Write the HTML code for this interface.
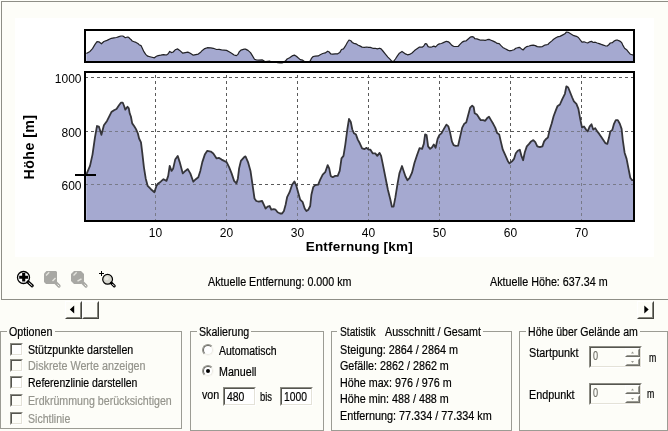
<!DOCTYPE html>
<html lang="de"><head><meta charset="utf-8"><title>Höhenprofil</title>
<style>
html,body{margin:0;padding:0;}
body{width:668px;height:431px;overflow:hidden;background:#fdfdf8;position:relative;font-family:"Liberation Sans",sans-serif;font-size:12px;color:#000;}
.abs{position:absolute;}
.t{position:absolute;white-space:nowrap;line-height:14px;height:14px;transform-origin:0 0;-webkit-text-stroke:0.2px currentColor;}
.dis{color:#94948c;}
.dk{color:#6f6f68;}
.fs{position:absolute;border:1px solid #9c9c94;box-sizing:border-box;}
.gap{position:absolute;height:3px;background:#fdfdf8;}
.cb{position:absolute;width:13px;height:13px;box-sizing:border-box;border:1px solid;border-color:#8c8c84 #fff #fff #8c8c84;background:#fff;}
.cb:after{content:"";position:absolute;left:0;top:0;right:0;bottom:0;border:1px solid;border-color:#55554f #e4e2d8 #e4e2d8 #55554f;}
.cb.d{background:#fdfdf8;}
.rb{position:absolute;width:12px;height:12px;box-sizing:border-box;border-radius:50%;background:#fff;border:1px solid #94948c;border-right-color:#f8f7f2;border-bottom-color:#f8f7f2;}
.rb:after{content:"";position:absolute;left:0;top:0;right:0;bottom:0;border-radius:50%;border:1px solid #6a6a64;border-right-color:#ecebe3;border-bottom-color:#ecebe3;}
.inp{position:absolute;box-sizing:border-box;background:#fff;border:1px solid;border-color:#8c8c84 #fff #fff #8c8c84;}
.inp:after{content:"";position:absolute;left:0;top:0;right:0;bottom:0;border:1px solid;border-color:#55554f #e4e2d8 #e4e2d8 #55554f;}
.inp.d{background:#fdfdf8;}
.btn{position:absolute;box-sizing:border-box;background:#fdfdf8;border:1px solid;border-color:#fff #45453f #45453f #fff;}
.sb{position:absolute;box-sizing:border-box;background:#fdfdf8;border:1px solid;border-color:#fff #6e6e68 #6e6e68 #fff;}
.sb:after{content:"";position:absolute;left:0;top:0;right:0;bottom:0;border:1px solid;border-color:#fdfdf8 #9a9a92 #9a9a92 #fdfdf8;}
.btn:after{content:"";position:absolute;left:0;top:0;right:0;bottom:0;border:1px solid;border-color:#fdfdf8 #85857d #85857d #fdfdf8;}
</style></head><body>
<div class="abs" style="left:1px;top:1px;width:700px;height:299px;box-sizing:border-box;border:1px solid #8e8e86;"></div>
<div class="abs" style="left:15px;top:18px;width:639px;height:238.5px;background:#fff;"></div>
<svg class="abs" style="left:0;top:0" width="668" height="300" viewBox="0 0 668 300" font-family="Liberation Sans, sans-serif">
<path d="M86.3,53.5 L90.0,51.4 L92.5,48.6 L95.0,44.4 L97.0,41.7 L98.9,41.8 L101.4,43.8 L103.9,41.5 L107.0,40.4 L111.4,38.3 L114.0,37.8 L116.5,37.5 L119.0,36.6 L120.9,36.0 L122.8,36.0 L124.0,36.8 L125.3,37.7 L127.5,37.0 L128.8,37.4 L129.7,38.6 L130.9,39.4 L132.2,41.0 L134.1,41.7 L136.0,42.4 L137.9,43.5 L139.1,44.7 L141.0,45.6 L142.2,48.0 L143.9,51.7 L145.7,54.4 L147.7,56.2 L150.9,57.0 L154.4,57.8 L156.4,56.2 L158.2,55.6 L160.7,55.2 L163.5,54.6 L166.5,55.0 L168.2,53.8 L169.7,51.4 L171.5,52.6 L173.2,52.0 L175.2,49.8 L177.7,48.9 L179.7,50.4 L182.8,53.2 L185.3,52.6 L187.8,52.1 L190.3,53.2 L193.3,55.2 L195.8,54.6 L198.3,54.1 L200.3,52.6 L202.3,50.4 L204.8,48.6 L207.3,47.7 L210.8,47.9 L213.3,48.3 L216.6,49.5 L219.1,49.4 L221.6,49.8 L224.1,50.1 L226.6,50.4 L229.1,51.7 L231.6,53.2 L234.1,55.0 L236.4,55.6 L237.9,54.4 L239.1,52.0 L240.9,50.1 L244.2,49.2 L245.5,49.1 L248.0,50.4 L250.5,52.6 L252.5,55.9 L254.5,59.3 L256.3,59.9 L258.8,60.1 L262.1,59.9 L263.8,60.8 L265.6,61.7 L267.6,61.3 L269.6,61.1 L271.3,62.0 L273.8,61.9 L275.6,62.0 L277.6,62.6 L280.1,62.9 L282.1,62.9 L283.9,62.3 L285.6,60.8 L287.1,59.0 L289.6,57.8 L292.1,55.9 L294.4,55.1 L296.4,56.2 L298.1,57.8 L300.2,59.6 L302.7,60.2 L304.7,61.7 L306.4,62.3 L308.4,62.0 L310.2,61.1 L311.4,58.4 L313.2,56.5 L315.2,56.1 L318.2,55.9 L320.2,54.7 L322.7,53.5 L325.2,52.9 L327.7,51.2 L329.2,52.0 L330.7,53.8 L332.7,54.1 L335.2,53.8 L337.7,53.8 L339.7,52.6 L341.5,49.5 L343.5,48.9 L345.3,46.2 L347.3,42.5 L349.0,40.0 L350.8,40.7 L352.3,42.5 L354.0,43.4 L356.0,43.8 L357.8,45.0 L359.8,45.9 L362.1,47.1 L364.6,47.3 L366.6,47.0 L368.6,47.4 L370.3,47.4 L372.8,48.3 L375.3,48.3 L377.3,48.9 L379.6,48.2 L381.1,48.9 L382.9,51.0 L385.4,54.1 L387.9,57.1 L390.4,59.6 L391.9,61.3 L393.6,61.3 L395.4,59.0 L397.4,55.9 L399.4,53.2 L402.0,51.4 L403.8,52.7 L405.5,53.9 L407.5,54.8 L409.5,54.4 L412.0,53.0 L414.5,50.6 L417.0,48.8 L419.5,47.1 L422.1,47.2 L423.8,46.0 L425.1,43.7 L426.6,43.9 L428.1,46.6 L430.1,47.2 L432.1,46.8 L433.8,46.1 L435.6,46.9 L437.6,44.8 L439.3,43.9 L441.4,43.5 L443.9,42.4 L446.4,41.3 L448.4,41.8 L450.1,43.3 L451.9,45.4 L453.6,46.3 L455.6,46.5 L458.1,46.5 L460.2,44.2 L462.2,42.1 L464.2,41.1 L466.2,40.8 L468.2,39.0 L470.2,37.2 L472.2,36.7 L473.7,37.1 L474.7,38.6 L476.9,38.9 L478.9,39.6 L480.7,40.2 L483.2,40.2 L485.2,40.4 L487.2,39.7 L489.0,39.4 L491.0,40.2 L493.2,41.1 L495.2,42.1 L497.2,43.4 L499.2,43.7 L500.8,45.4 L502.8,47.4 L505.3,48.8 L507.8,50.1 L509.5,50.8 L512.0,50.3 L514.0,49.7 L515.8,48.3 L517.8,47.7 L519.8,47.4 L521.6,49.1 L523.1,50.0 L524.8,48.0 L526.8,46.6 L529.1,46.0 L531.1,45.4 L533.3,45.1 L535.3,45.6 L537.3,46.6 L539.8,46.8 L542.4,46.6 L544.1,45.4 L546.1,44.8 L547.9,44.5 L549.6,42.7 L551.6,41.1 L553.6,39.3 L555.9,37.8 L557.4,36.9 L559.9,36.4 L562.4,35.1 L564.9,33.8 L566.4,32.0 L568.2,32.3 L570.2,33.5 L572.2,34.7 L573.9,35.7 L576.4,36.3 L578.4,37.5 L580.2,39.9 L582.0,42.1 L584.0,41.8 L586.0,42.5 L587.7,43.0 L589.7,41.8 L591.5,41.3 L593.2,42.5 L595.2,42.2 L597.2,43.0 L599.2,43.6 L601.3,44.4 L603.3,45.1 L605.3,45.8 L607.3,46.0 L609.0,44.5 L610.3,43.0 L612.3,42.7 L614.0,41.1 L615.8,40.2 L617.8,40.2 L619.8,41.1 L621.6,42.4 L622.8,45.1 L624.6,48.2 L626.6,49.7 L628.3,51.8 L630.3,54.2 L632.1,54.8 L633.8,54.8 L633.8,62 L86.3,62 Z" fill="#a5a9d0" stroke="none"/>
<path d="M86.3,53.5 L90.0,51.4 L92.5,48.6 L95.0,44.4 L97.0,41.7 L98.9,41.8 L101.4,43.8 L103.9,41.5 L107.0,40.4 L111.4,38.3 L114.0,37.8 L116.5,37.5 L119.0,36.6 L120.9,36.0 L122.8,36.0 L124.0,36.8 L125.3,37.7 L127.5,37.0 L128.8,37.4 L129.7,38.6 L130.9,39.4 L132.2,41.0 L134.1,41.7 L136.0,42.4 L137.9,43.5 L139.1,44.7 L141.0,45.6 L142.2,48.0 L143.9,51.7 L145.7,54.4 L147.7,56.2 L150.9,57.0 L154.4,57.8 L156.4,56.2 L158.2,55.6 L160.7,55.2 L163.5,54.6 L166.5,55.0 L168.2,53.8 L169.7,51.4 L171.5,52.6 L173.2,52.0 L175.2,49.8 L177.7,48.9 L179.7,50.4 L182.8,53.2 L185.3,52.6 L187.8,52.1 L190.3,53.2 L193.3,55.2 L195.8,54.6 L198.3,54.1 L200.3,52.6 L202.3,50.4 L204.8,48.6 L207.3,47.7 L210.8,47.9 L213.3,48.3 L216.6,49.5 L219.1,49.4 L221.6,49.8 L224.1,50.1 L226.6,50.4 L229.1,51.7 L231.6,53.2 L234.1,55.0 L236.4,55.6 L237.9,54.4 L239.1,52.0 L240.9,50.1 L244.2,49.2 L245.5,49.1 L248.0,50.4 L250.5,52.6 L252.5,55.9 L254.5,59.3 L256.3,59.9 L258.8,60.1 L262.1,59.9 L263.8,60.8 L265.6,61.7 L267.6,61.3 L269.6,61.1 L271.3,62.0 L273.8,61.9 L275.6,62.0 L277.6,62.6 L280.1,62.9 L282.1,62.9 L283.9,62.3 L285.6,60.8 L287.1,59.0 L289.6,57.8 L292.1,55.9 L294.4,55.1 L296.4,56.2 L298.1,57.8 L300.2,59.6 L302.7,60.2 L304.7,61.7 L306.4,62.3 L308.4,62.0 L310.2,61.1 L311.4,58.4 L313.2,56.5 L315.2,56.1 L318.2,55.9 L320.2,54.7 L322.7,53.5 L325.2,52.9 L327.7,51.2 L329.2,52.0 L330.7,53.8 L332.7,54.1 L335.2,53.8 L337.7,53.8 L339.7,52.6 L341.5,49.5 L343.5,48.9 L345.3,46.2 L347.3,42.5 L349.0,40.0 L350.8,40.7 L352.3,42.5 L354.0,43.4 L356.0,43.8 L357.8,45.0 L359.8,45.9 L362.1,47.1 L364.6,47.3 L366.6,47.0 L368.6,47.4 L370.3,47.4 L372.8,48.3 L375.3,48.3 L377.3,48.9 L379.6,48.2 L381.1,48.9 L382.9,51.0 L385.4,54.1 L387.9,57.1 L390.4,59.6 L391.9,61.3 L393.6,61.3 L395.4,59.0 L397.4,55.9 L399.4,53.2 L402.0,51.4 L403.8,52.7 L405.5,53.9 L407.5,54.8 L409.5,54.4 L412.0,53.0 L414.5,50.6 L417.0,48.8 L419.5,47.1 L422.1,47.2 L423.8,46.0 L425.1,43.7 L426.6,43.9 L428.1,46.6 L430.1,47.2 L432.1,46.8 L433.8,46.1 L435.6,46.9 L437.6,44.8 L439.3,43.9 L441.4,43.5 L443.9,42.4 L446.4,41.3 L448.4,41.8 L450.1,43.3 L451.9,45.4 L453.6,46.3 L455.6,46.5 L458.1,46.5 L460.2,44.2 L462.2,42.1 L464.2,41.1 L466.2,40.8 L468.2,39.0 L470.2,37.2 L472.2,36.7 L473.7,37.1 L474.7,38.6 L476.9,38.9 L478.9,39.6 L480.7,40.2 L483.2,40.2 L485.2,40.4 L487.2,39.7 L489.0,39.4 L491.0,40.2 L493.2,41.1 L495.2,42.1 L497.2,43.4 L499.2,43.7 L500.8,45.4 L502.8,47.4 L505.3,48.8 L507.8,50.1 L509.5,50.8 L512.0,50.3 L514.0,49.7 L515.8,48.3 L517.8,47.7 L519.8,47.4 L521.6,49.1 L523.1,50.0 L524.8,48.0 L526.8,46.6 L529.1,46.0 L531.1,45.4 L533.3,45.1 L535.3,45.6 L537.3,46.6 L539.8,46.8 L542.4,46.6 L544.1,45.4 L546.1,44.8 L547.9,44.5 L549.6,42.7 L551.6,41.1 L553.6,39.3 L555.9,37.8 L557.4,36.9 L559.9,36.4 L562.4,35.1 L564.9,33.8 L566.4,32.0 L568.2,32.3 L570.2,33.5 L572.2,34.7 L573.9,35.7 L576.4,36.3 L578.4,37.5 L580.2,39.9 L582.0,42.1 L584.0,41.8 L586.0,42.5 L587.7,43.0 L589.7,41.8 L591.5,41.3 L593.2,42.5 L595.2,42.2 L597.2,43.0 L599.2,43.6 L601.3,44.4 L603.3,45.1 L605.3,45.8 L607.3,46.0 L609.0,44.5 L610.3,43.0 L612.3,42.7 L614.0,41.1 L615.8,40.2 L617.8,40.2 L619.8,41.1 L621.6,42.4 L622.8,45.1 L624.6,48.2 L626.6,49.7 L628.3,51.8 L630.3,54.2 L632.1,54.8 L633.8,54.8" fill="none" stroke="#222226" stroke-width="1.2" stroke-linejoin="round"/>
<rect x="85" y="30" width="549" height="32" fill="none" stroke="#000" stroke-width="2"/>
<path d="M86.3,174.7 L90.0,165.9 L92.5,154.6 L95.0,137.1 L97.0,126.0 L98.9,126.6 L101.4,134.8 L103.9,125.3 L107.0,120.9 L111.4,112.1 L114.0,110.2 L116.5,109.0 L119.0,105.2 L120.9,102.7 L122.8,102.7 L124.0,105.8 L125.3,109.6 L127.5,106.8 L128.8,108.4 L129.7,113.4 L130.9,116.5 L132.2,123.4 L134.1,126.0 L136.0,129.1 L137.9,133.5 L139.1,138.5 L141.0,142.3 L142.2,152.1 L143.9,167.1 L145.7,178.4 L147.7,185.9 L150.9,189.2 L154.4,192.2 L156.4,185.9 L158.2,183.4 L160.7,181.7 L163.5,179.2 L166.5,180.9 L168.2,175.9 L169.7,165.9 L171.5,170.9 L173.2,168.4 L175.2,159.6 L177.7,155.9 L179.7,162.1 L182.8,173.4 L185.3,170.9 L187.8,169.1 L190.3,173.4 L193.3,181.7 L195.8,179.2 L198.3,177.2 L200.3,170.9 L202.3,162.1 L204.8,154.6 L207.3,150.8 L210.8,151.6 L213.3,153.4 L216.6,158.4 L219.1,157.9 L221.6,159.6 L224.1,160.9 L226.6,162.1 L229.1,167.1 L231.6,173.4 L234.1,180.9 L236.4,183.4 L237.9,178.4 L239.1,168.4 L240.9,160.9 L244.2,157.1 L245.5,156.4 L248.0,162.1 L250.5,170.9 L252.5,184.7 L254.5,198.5 L256.3,201.0 L258.8,201.7 L262.1,201.0 L263.8,204.7 L265.6,208.5 L267.6,206.7 L269.6,206.0 L271.3,209.7 L273.8,209.2 L275.6,209.7 L277.6,212.3 L280.1,213.5 L282.1,213.5 L283.9,211.0 L285.6,204.7 L287.1,197.2 L289.6,192.2 L292.1,184.7 L294.4,181.4 L296.4,185.9 L298.1,192.2 L300.2,199.7 L302.7,202.2 L304.7,208.5 L306.4,211.0 L308.4,209.7 L310.2,206.0 L311.4,194.7 L313.2,187.2 L315.2,185.2 L318.2,184.7 L320.2,179.7 L322.7,174.7 L325.2,172.2 L327.7,165.1 L329.2,168.4 L330.7,175.9 L332.7,177.2 L335.2,175.9 L337.7,175.9 L339.7,170.9 L341.5,158.4 L343.5,155.9 L345.3,144.6 L347.3,129.5 L349.0,119.0 L350.8,122.0 L352.3,129.5 L354.0,133.3 L356.0,134.6 L357.8,139.6 L359.8,143.3 L362.1,148.3 L364.6,149.1 L366.6,147.8 L368.6,149.6 L370.3,149.6 L372.8,153.4 L375.3,153.4 L377.3,155.9 L379.6,152.9 L381.1,155.9 L382.9,164.6 L385.4,177.2 L387.9,189.7 L390.4,199.7 L391.9,206.7 L393.6,206.7 L395.4,197.2 L397.4,184.7 L399.4,173.4 L402.0,166.0 L403.8,171.5 L405.5,176.5 L407.5,180.2 L409.5,178.2 L412.0,172.7 L414.5,162.7 L417.0,155.2 L419.5,148.2 L422.1,148.9 L423.8,143.9 L425.1,134.4 L426.6,135.1 L428.1,146.4 L430.1,148.9 L432.1,147.2 L433.8,144.4 L435.6,147.7 L437.6,138.9 L439.3,135.1 L441.4,133.4 L443.9,128.9 L446.4,124.6 L448.4,126.4 L450.1,132.6 L451.9,141.4 L453.6,145.2 L455.6,145.9 L458.1,145.7 L460.2,136.4 L462.2,127.6 L464.2,123.8 L466.2,122.6 L468.2,115.1 L470.2,107.6 L472.2,105.6 L473.7,107.1 L474.7,113.3 L476.9,114.6 L478.9,117.6 L480.7,120.1 L483.2,120.1 L485.2,120.8 L487.2,118.1 L489.0,116.8 L491.0,120.1 L493.2,123.8 L495.2,127.6 L497.2,133.1 L499.2,134.4 L500.8,141.4 L502.8,149.7 L505.3,155.2 L507.8,160.9 L509.5,163.4 L512.0,161.4 L514.0,158.9 L515.8,153.2 L517.8,150.7 L519.8,149.7 L521.6,156.4 L523.1,160.2 L524.8,152.2 L526.8,146.4 L529.1,143.9 L531.1,141.4 L533.3,140.1 L535.3,142.1 L537.3,146.4 L539.8,147.2 L542.4,146.4 L544.1,141.4 L546.1,138.9 L547.9,137.6 L549.6,130.1 L551.6,123.8 L553.6,116.3 L555.9,110.1 L557.4,106.3 L559.9,104.5 L562.4,98.8 L564.9,93.8 L566.4,86.3 L568.2,87.5 L570.2,92.5 L572.2,97.5 L573.9,101.3 L576.4,103.8 L578.4,108.8 L580.2,118.8 L582.0,127.6 L584.0,126.4 L586.0,129.6 L587.7,131.4 L589.7,126.4 L591.5,124.3 L593.2,129.6 L595.2,128.1 L597.2,131.4 L599.2,133.9 L601.3,137.1 L603.3,140.1 L605.3,143.1 L607.3,143.9 L609.0,137.6 L610.3,131.4 L612.3,130.1 L614.0,123.8 L615.8,120.1 L617.8,120.1 L619.8,123.8 L621.6,128.9 L622.8,140.1 L624.6,152.7 L626.6,158.9 L628.3,167.7 L630.3,177.7 L632.1,180.2 L633.8,180.2 L633.8,221 L86.3,221 Z" fill="#a5a9d0" stroke="none"/>
<g stroke="#5a5a5a" stroke-width="1" stroke-dasharray="3 3" shape-rendering="crispEdges"><line x1="155.5" y1="75" x2="155.5" y2="220"/><line x1="226.5" y1="75" x2="226.5" y2="220"/><line x1="297.5" y1="75" x2="297.5" y2="220"/><line x1="368.5" y1="75" x2="368.5" y2="220"/><line x1="439.5" y1="75" x2="439.5" y2="220"/><line x1="510.5" y1="75" x2="510.5" y2="220"/><line x1="581.5" y1="75" x2="581.5" y2="220"/><line x1="85" y1="77.5" x2="633" y2="77.5"/><line x1="85" y1="131.5" x2="633" y2="131.5"/><line x1="85" y1="184.5" x2="633" y2="184.5"/></g>
<path d="M86.3,174.7 L90.0,165.9 L92.5,154.6 L95.0,137.1 L97.0,126.0 L98.9,126.6 L101.4,134.8 L103.9,125.3 L107.0,120.9 L111.4,112.1 L114.0,110.2 L116.5,109.0 L119.0,105.2 L120.9,102.7 L122.8,102.7 L124.0,105.8 L125.3,109.6 L127.5,106.8 L128.8,108.4 L129.7,113.4 L130.9,116.5 L132.2,123.4 L134.1,126.0 L136.0,129.1 L137.9,133.5 L139.1,138.5 L141.0,142.3 L142.2,152.1 L143.9,167.1 L145.7,178.4 L147.7,185.9 L150.9,189.2 L154.4,192.2 L156.4,185.9 L158.2,183.4 L160.7,181.7 L163.5,179.2 L166.5,180.9 L168.2,175.9 L169.7,165.9 L171.5,170.9 L173.2,168.4 L175.2,159.6 L177.7,155.9 L179.7,162.1 L182.8,173.4 L185.3,170.9 L187.8,169.1 L190.3,173.4 L193.3,181.7 L195.8,179.2 L198.3,177.2 L200.3,170.9 L202.3,162.1 L204.8,154.6 L207.3,150.8 L210.8,151.6 L213.3,153.4 L216.6,158.4 L219.1,157.9 L221.6,159.6 L224.1,160.9 L226.6,162.1 L229.1,167.1 L231.6,173.4 L234.1,180.9 L236.4,183.4 L237.9,178.4 L239.1,168.4 L240.9,160.9 L244.2,157.1 L245.5,156.4 L248.0,162.1 L250.5,170.9 L252.5,184.7 L254.5,198.5 L256.3,201.0 L258.8,201.7 L262.1,201.0 L263.8,204.7 L265.6,208.5 L267.6,206.7 L269.6,206.0 L271.3,209.7 L273.8,209.2 L275.6,209.7 L277.6,212.3 L280.1,213.5 L282.1,213.5 L283.9,211.0 L285.6,204.7 L287.1,197.2 L289.6,192.2 L292.1,184.7 L294.4,181.4 L296.4,185.9 L298.1,192.2 L300.2,199.7 L302.7,202.2 L304.7,208.5 L306.4,211.0 L308.4,209.7 L310.2,206.0 L311.4,194.7 L313.2,187.2 L315.2,185.2 L318.2,184.7 L320.2,179.7 L322.7,174.7 L325.2,172.2 L327.7,165.1 L329.2,168.4 L330.7,175.9 L332.7,177.2 L335.2,175.9 L337.7,175.9 L339.7,170.9 L341.5,158.4 L343.5,155.9 L345.3,144.6 L347.3,129.5 L349.0,119.0 L350.8,122.0 L352.3,129.5 L354.0,133.3 L356.0,134.6 L357.8,139.6 L359.8,143.3 L362.1,148.3 L364.6,149.1 L366.6,147.8 L368.6,149.6 L370.3,149.6 L372.8,153.4 L375.3,153.4 L377.3,155.9 L379.6,152.9 L381.1,155.9 L382.9,164.6 L385.4,177.2 L387.9,189.7 L390.4,199.7 L391.9,206.7 L393.6,206.7 L395.4,197.2 L397.4,184.7 L399.4,173.4 L402.0,166.0 L403.8,171.5 L405.5,176.5 L407.5,180.2 L409.5,178.2 L412.0,172.7 L414.5,162.7 L417.0,155.2 L419.5,148.2 L422.1,148.9 L423.8,143.9 L425.1,134.4 L426.6,135.1 L428.1,146.4 L430.1,148.9 L432.1,147.2 L433.8,144.4 L435.6,147.7 L437.6,138.9 L439.3,135.1 L441.4,133.4 L443.9,128.9 L446.4,124.6 L448.4,126.4 L450.1,132.6 L451.9,141.4 L453.6,145.2 L455.6,145.9 L458.1,145.7 L460.2,136.4 L462.2,127.6 L464.2,123.8 L466.2,122.6 L468.2,115.1 L470.2,107.6 L472.2,105.6 L473.7,107.1 L474.7,113.3 L476.9,114.6 L478.9,117.6 L480.7,120.1 L483.2,120.1 L485.2,120.8 L487.2,118.1 L489.0,116.8 L491.0,120.1 L493.2,123.8 L495.2,127.6 L497.2,133.1 L499.2,134.4 L500.8,141.4 L502.8,149.7 L505.3,155.2 L507.8,160.9 L509.5,163.4 L512.0,161.4 L514.0,158.9 L515.8,153.2 L517.8,150.7 L519.8,149.7 L521.6,156.4 L523.1,160.2 L524.8,152.2 L526.8,146.4 L529.1,143.9 L531.1,141.4 L533.3,140.1 L535.3,142.1 L537.3,146.4 L539.8,147.2 L542.4,146.4 L544.1,141.4 L546.1,138.9 L547.9,137.6 L549.6,130.1 L551.6,123.8 L553.6,116.3 L555.9,110.1 L557.4,106.3 L559.9,104.5 L562.4,98.8 L564.9,93.8 L566.4,86.3 L568.2,87.5 L570.2,92.5 L572.2,97.5 L573.9,101.3 L576.4,103.8 L578.4,108.8 L580.2,118.8 L582.0,127.6 L584.0,126.4 L586.0,129.6 L587.7,131.4 L589.7,126.4 L591.5,124.3 L593.2,129.6 L595.2,128.1 L597.2,131.4 L599.2,133.9 L601.3,137.1 L603.3,140.1 L605.3,143.1 L607.3,143.9 L609.0,137.6 L610.3,131.4 L612.3,130.1 L614.0,123.8 L615.8,120.1 L617.8,120.1 L619.8,123.8 L621.6,128.9 L622.8,140.1 L624.6,152.7 L626.6,158.9 L628.3,167.7 L630.3,177.7 L632.1,180.2 L633.8,180.2 L633.8,221 L86.3,221 Z" fill="#a5a9d0" fill-opacity="0.4" stroke="none"/>
<path d="M86.3,174.7 L90.0,165.9 L92.5,154.6 L95.0,137.1 L97.0,126.0 L98.9,126.6 L101.4,134.8 L103.9,125.3 L107.0,120.9 L111.4,112.1 L114.0,110.2 L116.5,109.0 L119.0,105.2 L120.9,102.7 L122.8,102.7 L124.0,105.8 L125.3,109.6 L127.5,106.8 L128.8,108.4 L129.7,113.4 L130.9,116.5 L132.2,123.4 L134.1,126.0 L136.0,129.1 L137.9,133.5 L139.1,138.5 L141.0,142.3 L142.2,152.1 L143.9,167.1 L145.7,178.4 L147.7,185.9 L150.9,189.2 L154.4,192.2 L156.4,185.9 L158.2,183.4 L160.7,181.7 L163.5,179.2 L166.5,180.9 L168.2,175.9 L169.7,165.9 L171.5,170.9 L173.2,168.4 L175.2,159.6 L177.7,155.9 L179.7,162.1 L182.8,173.4 L185.3,170.9 L187.8,169.1 L190.3,173.4 L193.3,181.7 L195.8,179.2 L198.3,177.2 L200.3,170.9 L202.3,162.1 L204.8,154.6 L207.3,150.8 L210.8,151.6 L213.3,153.4 L216.6,158.4 L219.1,157.9 L221.6,159.6 L224.1,160.9 L226.6,162.1 L229.1,167.1 L231.6,173.4 L234.1,180.9 L236.4,183.4 L237.9,178.4 L239.1,168.4 L240.9,160.9 L244.2,157.1 L245.5,156.4 L248.0,162.1 L250.5,170.9 L252.5,184.7 L254.5,198.5 L256.3,201.0 L258.8,201.7 L262.1,201.0 L263.8,204.7 L265.6,208.5 L267.6,206.7 L269.6,206.0 L271.3,209.7 L273.8,209.2 L275.6,209.7 L277.6,212.3 L280.1,213.5 L282.1,213.5 L283.9,211.0 L285.6,204.7 L287.1,197.2 L289.6,192.2 L292.1,184.7 L294.4,181.4 L296.4,185.9 L298.1,192.2 L300.2,199.7 L302.7,202.2 L304.7,208.5 L306.4,211.0 L308.4,209.7 L310.2,206.0 L311.4,194.7 L313.2,187.2 L315.2,185.2 L318.2,184.7 L320.2,179.7 L322.7,174.7 L325.2,172.2 L327.7,165.1 L329.2,168.4 L330.7,175.9 L332.7,177.2 L335.2,175.9 L337.7,175.9 L339.7,170.9 L341.5,158.4 L343.5,155.9 L345.3,144.6 L347.3,129.5 L349.0,119.0 L350.8,122.0 L352.3,129.5 L354.0,133.3 L356.0,134.6 L357.8,139.6 L359.8,143.3 L362.1,148.3 L364.6,149.1 L366.6,147.8 L368.6,149.6 L370.3,149.6 L372.8,153.4 L375.3,153.4 L377.3,155.9 L379.6,152.9 L381.1,155.9 L382.9,164.6 L385.4,177.2 L387.9,189.7 L390.4,199.7 L391.9,206.7 L393.6,206.7 L395.4,197.2 L397.4,184.7 L399.4,173.4 L402.0,166.0 L403.8,171.5 L405.5,176.5 L407.5,180.2 L409.5,178.2 L412.0,172.7 L414.5,162.7 L417.0,155.2 L419.5,148.2 L422.1,148.9 L423.8,143.9 L425.1,134.4 L426.6,135.1 L428.1,146.4 L430.1,148.9 L432.1,147.2 L433.8,144.4 L435.6,147.7 L437.6,138.9 L439.3,135.1 L441.4,133.4 L443.9,128.9 L446.4,124.6 L448.4,126.4 L450.1,132.6 L451.9,141.4 L453.6,145.2 L455.6,145.9 L458.1,145.7 L460.2,136.4 L462.2,127.6 L464.2,123.8 L466.2,122.6 L468.2,115.1 L470.2,107.6 L472.2,105.6 L473.7,107.1 L474.7,113.3 L476.9,114.6 L478.9,117.6 L480.7,120.1 L483.2,120.1 L485.2,120.8 L487.2,118.1 L489.0,116.8 L491.0,120.1 L493.2,123.8 L495.2,127.6 L497.2,133.1 L499.2,134.4 L500.8,141.4 L502.8,149.7 L505.3,155.2 L507.8,160.9 L509.5,163.4 L512.0,161.4 L514.0,158.9 L515.8,153.2 L517.8,150.7 L519.8,149.7 L521.6,156.4 L523.1,160.2 L524.8,152.2 L526.8,146.4 L529.1,143.9 L531.1,141.4 L533.3,140.1 L535.3,142.1 L537.3,146.4 L539.8,147.2 L542.4,146.4 L544.1,141.4 L546.1,138.9 L547.9,137.6 L549.6,130.1 L551.6,123.8 L553.6,116.3 L555.9,110.1 L557.4,106.3 L559.9,104.5 L562.4,98.8 L564.9,93.8 L566.4,86.3 L568.2,87.5 L570.2,92.5 L572.2,97.5 L573.9,101.3 L576.4,103.8 L578.4,108.8 L580.2,118.8 L582.0,127.6 L584.0,126.4 L586.0,129.6 L587.7,131.4 L589.7,126.4 L591.5,124.3 L593.2,129.6 L595.2,128.1 L597.2,131.4 L599.2,133.9 L601.3,137.1 L603.3,140.1 L605.3,143.1 L607.3,143.9 L609.0,137.6 L610.3,131.4 L612.3,130.1 L614.0,123.8 L615.8,120.1 L617.8,120.1 L619.8,123.8 L621.6,128.9 L622.8,140.1 L624.6,152.7 L626.6,158.9 L628.3,167.7 L630.3,177.7 L632.1,180.2 L633.8,180.2" fill="none" stroke="#35353a" stroke-width="1.8" stroke-linejoin="round"/>
<rect x="85" y="72" width="549" height="149" fill="none" stroke="#000" stroke-width="2"/>
<line x1="75" y1="175" x2="96" y2="175" stroke="#000" stroke-width="2"/>
<g font-size="12" fill="#000">
<text x="81.5" y="83" text-anchor="end">1000</text>
<text x="81.5" y="136.5" text-anchor="end">800</text>
<text x="81.5" y="189.5" text-anchor="end">600</text>
<text x="155.5" y="237" text-anchor="middle">10</text><text x="226.5" y="237" text-anchor="middle">20</text><text x="297.5" y="237" text-anchor="middle">30</text><text x="368.5" y="237" text-anchor="middle">40</text><text x="439.5" y="237" text-anchor="middle">50</text><text x="510.5" y="237" text-anchor="middle">60</text><text x="581.5" y="237" text-anchor="middle">70</text>
</g>
<text x="359.3" y="251.3" text-anchor="middle" font-size="13.5" font-weight="bold" letter-spacing="0.2">Entfernung [km]</text>
<text transform="translate(34.3,147) rotate(-90)" text-anchor="middle" font-size="14.2" font-weight="bold" letter-spacing="0.45">Höhe [m]</text>
<g id="ic1">
<circle cx="23.5" cy="277.5" r="6" fill="#fff" stroke="#000" stroke-width="1.3"/>
<path d="M19.2,277.2h8.8M23.7,273v8.5" stroke="#000" stroke-width="3.1"/>
<path d="M28,282L32.2,285.8" stroke="#000" stroke-width="3.2" stroke-linecap="round"/>
<path d="M29,282.9L32,285.6" stroke="#fff" stroke-width="1" stroke-linecap="round"/>
</g>
<g id="ic2">
<path d="M46.5,271h9.5l1,1v9.5l-2.5,2.5h-8.5l-2,-2v-8.5z" fill="#a8a8a4"/>
<path d="M55,282L59,286" stroke="#a8a8a4" stroke-width="3.2" stroke-linecap="round"/>
<path d="M57.8,284.8L59,286" stroke="#f4f4ee" stroke-width="1" stroke-linecap="round"/>
<path d="M46,275.5l3.2,-3.2M52.5,281l3,-3" stroke="#e4e4de" stroke-width="1.4"/>
</g>
<g id="ic3">
<path d="M74,271h7l3,3v7l-3,3h-7l-3,-3v-7z" fill="#a8a8a4"/>
<path d="M82,282L86,286" stroke="#a8a8a4" stroke-width="3.2" stroke-linecap="round"/>
<path d="M84.8,284.8L86,286" stroke="#f4f4ee" stroke-width="1" stroke-linecap="round"/>
<path d="M73.5,275.5l3.2,-3.2M77.5,281.2l4,-2.4" stroke="#e4e4de" stroke-width="1.4"/>
</g>
<g id="ic4">
<path d="M99,273.5h5M101.5,271v5" stroke="#000" stroke-width="1"/>
<circle cx="107.6" cy="279.3" r="4.9" fill="#d6d6ce" stroke="#000" stroke-width="1.2"/>
<circle cx="106.6" cy="278.3" r="2" fill="#e8e8e2"/>
<path d="M111.3,283L114.3,286" stroke="#000" stroke-width="3" stroke-linecap="round"/>
<path d="M112.6,284.3L114.2,285.9" stroke="#fff" stroke-width="1" stroke-linecap="round"/>
</g>
</svg>

<div class="btn" style="left:65px;top:301px;width:17px;height:18px;"></div>
<div class="btn" style="left:82px;top:301px;width:17px;height:18px;"></div>
<div class="btn" style="left:637px;top:301px;width:17px;height:18px;"></div>
<svg class="abs" style="left:0;top:300px" width="668" height="20" viewBox="0 300 668 20"><path d="M74.2,305.5v8l-4.4,-4z M644.3,305.5v8l4.4,-4z" fill="#000"/></svg>

<div class="fs" style="left:0px;top:331px;width:182px;height:98px;"></div><div class="gap" style="left:7px;top:330px;width:48px;"></div>
<div class="fs" style="left:190px;top:331px;width:134px;height:100px;"></div><div class="gap" style="left:197px;top:330px;width:54px;"></div>
<div class="fs" style="left:331px;top:331px;width:181px;height:100px;"></div><div class="gap" style="left:337px;top:330px;width:146px;"></div>
<div class="fs" style="left:519px;top:331px;width:149px;height:100px;"></div><div class="gap" style="left:526px;top:330px;width:114px;"></div>

<div class="cb" style="left:10px;top:343px;"></div>
<div class="cb d" style="left:10px;top:359px;"></div>
<div class="cb" style="left:10px;top:376px;"></div>
<div class="cb d" style="left:10px;top:394px;"></div>
<div class="cb d" style="left:10px;top:412px;"></div>

<div class="rb" style="left:202px;top:344px;"></div>
<div class="rb" style="left:202px;top:365px;"></div><div class="abs" style="left:206px;top:369px;width:4px;height:4px;border-radius:50%;background:#000;"></div>
<div class="inp" style="left:223px;top:387px;width:33px;height:19px;"></div>
<div class="inp" style="left:280px;top:387px;width:33px;height:19px;"></div>

<div class="inp d" style="left:589px;top:346px;width:53px;height:22px;"></div>
<div class="inp d" style="left:589px;top:383px;width:53px;height:22px;"></div>
<div class="sb" style="left:625px;top:348px;width:15px;height:9px;"></div>
<div class="sb" style="left:625px;top:358px;width:15px;height:8px;"></div>
<div class="sb" style="left:625px;top:385px;width:15px;height:9px;"></div>
<div class="sb" style="left:625px;top:395px;width:15px;height:8px;"></div>
<svg class="abs" style="left:620px;top:340px" width="30" height="70" viewBox="620 340 30 70"><path d="M631,353.5h3l-1.5,-2z M631,361h3l-1.5,2z M631,390.5h3l-1.5,-2z M631,398h3l-1.5,2z" fill="#9a9a92"/></svg>
<div class="t" style="left:207.90px;top:275.30px;transform:scaleX(0.8924);">Aktuelle Entfernung: 0.000 km</div>
<div class="t" style="left:489.60px;top:275.30px;transform:scaleX(0.8950);">Aktuelle Höhe: 637.34 m</div>
<div class="t" style="left:8.90px;top:325.00px;transform:scaleX(0.8912);">Optionen</div>
<div class="t" style="left:27.80px;top:343.00px;transform:scaleX(0.8863);">Stützpunkte darstellen</div>
<div class="t dis" style="left:27.80px;top:359.00px;transform:scaleX(0.8963);">Diskrete Werte anzeigen</div>
<div class="t" style="left:27.80px;top:376.00px;transform:scaleX(0.8724);">Referenzlinie darstellen</div>
<div class="t dis" style="left:27.80px;top:394.00px;transform:scaleX(0.8871);">Erdkrümmung berücksichtigen</div>
<div class="t dis" style="left:27.80px;top:412.00px;transform:scaleX(0.8812);">Sichtlinie</div>
<div class="t" style="left:198.80px;top:325.00px;transform:scaleX(0.8854);">Skalierung</div>
<div class="t" style="left:219.40px;top:344.00px;transform:scaleX(0.8727);">Automatisch</div>
<div class="t" style="left:218.60px;top:365.00px;transform:scaleX(0.8905);">Manuell</div>
<div class="t" style="left:202.10px;top:388.00px;transform:scaleX(0.8912);">von</div>
<div class="t" style="left:227.20px;top:390.00px;transform:scaleX(0.8700);">480</div>
<div class="t" style="left:260.10px;top:390.00px;transform:scaleX(0.7843);">bis</div>
<div class="t" style="left:284.30px;top:390.00px;transform:scaleX(0.8614);">1000</div>
<div class="t" style="left:339.70px;top:325.00px;transform:scaleX(0.8504);">Statistik</div>
<div class="t" style="left:385.00px;top:325.00px;transform:scaleX(0.8939);">Ausschnitt / Gesamt</div>
<div class="t" style="left:340.20px;top:343.00px;transform:scaleX(0.9021);">Steigung: 2864 / 2864 m</div>
<div class="t" style="left:340.20px;top:359.00px;transform:scaleX(0.8962);">Gefälle: 2862 / 2862 m</div>
<div class="t" style="left:340.20px;top:375.50px;transform:scaleX(0.8957);">Höhe max: 976 / 976 m</div>
<div class="t" style="left:340.20px;top:392.00px;transform:scaleX(0.8962);">Höhe min: 488 / 488 m</div>
<div class="t" style="left:340.20px;top:408.50px;transform:scaleX(0.9030);">Entfernung: 77.334 / 77.334 km</div>
<div class="t" style="left:528.40px;top:325.00px;transform:scaleX(0.8805);">Höhe über Gelände am</div>
<div class="t" style="left:529.30px;top:346.00px;transform:scaleX(0.9031);">Startpunkt</div>
<div class="t" style="left:529.30px;top:388.00px;transform:scaleX(0.8994);">Endpunkt</div>
<div class="t dk" style="left:593.10px;top:348.80px;transform:scaleX(0.7612);">0</div>
<div class="t dk" style="left:593.10px;top:386.00px;transform:scaleX(0.7612);">0</div>
<div class="t" style="left:648.90px;top:351.00px;transform:scaleX(0.7300);">m</div>
<div class="t" style="left:646.70px;top:387.00px;transform:scaleX(0.7300);">m</div>
</body></html>
